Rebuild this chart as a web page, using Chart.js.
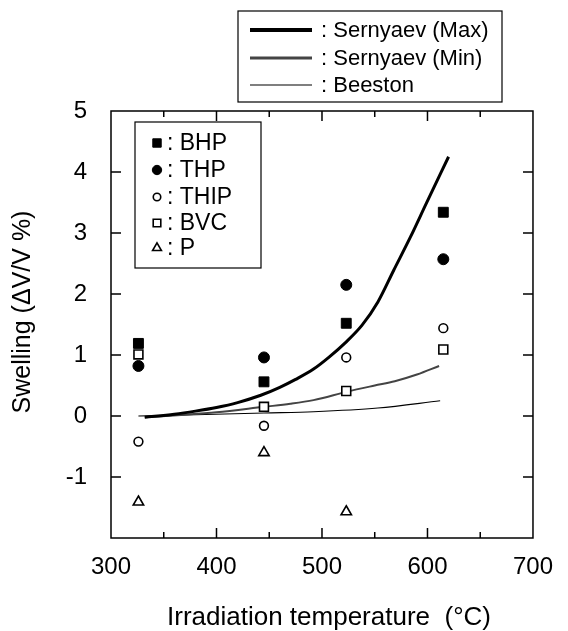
<!DOCTYPE html>
<html>
<head>
<meta charset="utf-8">
<script src="https://cdn.jsdelivr.net/npm/chart.js@4"></script>
<style>
  html, body { margin: 0; padding: 0; background: #fff; }
  #wrap { width: 568px; height: 631px; }
</style>
</head>
<body>
<div id="wrap"><canvas id="grafico" width="568" height="631"></canvas></div>
<script>
// datos
const tempGrupos = [326, 445, 523, 615];
const bhp = [1.19, 0.56, 1.52, 3.34];
const thp = [0.82, 0.96, 2.15, 2.57];
const thip = [-0.42, -0.16, 0.96, 1.44];
const bvc = [1.01, 0.15, 0.41, 1.09];
const tempP = [326, 445, 523];
const pVal = [-1.41, -0.60, -1.57];

// curvas
const maxT = [332, 360, 380, 400, 420, 442, 460, 475, 492, 507, 522, 538, 553, 568, 584, 599, 620];
const maxV = [-0.02, 0.03, 0.08, 0.14, 0.22, 0.34, 0.47, 0.60, 0.77, 0.97, 1.20, 1.49, 1.87, 2.39, 2.94, 3.49, 4.25];
const minT = [332, 370, 400, 445, 470, 492, 524, 550, 569, 590, 611];
const minV = [-0.02, 0.02, 0.06, 0.15, 0.20, 0.26, 0.40, 0.50, 0.57, 0.68, 0.82];
const beeT = [326, 380, 445, 492, 553, 612];
const beeV = [0.00, 0.02, 0.05, 0.07, 0.13, 0.25];

const xTicks = [300, 400, 500, 600, 700];
const yTicks = [-1, 0, 1, 2, 3, 4, 5];
const xTitulo = 'Irradiation temperature  (°C)';
const yTitulo = 'Swelling (ΔV/V %)';

const FONT = '"Liberation Sans", Arial, Helvetica, sans-serif';

function pares(xs, ys) {
    return xs.map((x, i) => ({ x: x, y: ys[i] }));
}

function puntos(label, ys, xs, style, relleno, radio) {
    return {
        label: label,
        data: pares(xs, ys),
        pointStyle: style,
        pointRadius: radio,
        pointHoverRadius: radio,
        pointBackgroundColor: relleno ? '#000' : '#fff',
        pointBorderColor: '#000',
        pointBorderWidth: relleno ? 1 : 1.6,
        showLine: false,
        order: 0,
        grupo: 'puntos'
    };
}

function curva(label, xs, ys, color, ancho, anchoLeyenda) {
    return {
        label: label,
        data: pares(xs, ys),
        showLine: true,
        borderColor: color,
        borderWidth: ancho,
        pointRadius: 0,
        cubicInterpolationMode: 'monotone',
        order: 5,
        grupo: 'curvas',
        anchoLeyenda: anchoLeyenda
    };
}

// marco, ticks hacia adentro, titulos y leyendas
const marcoPlugin = {
    id: 'marco',
    afterDraw(chart) {
        const ctx = chart.ctx;
        const a = chart.chartArea;
        const xs = chart.scales.x;
        const ys = chart.scales.y;
        ctx.save();
        ctx.strokeStyle = '#000';
        ctx.lineWidth = 1.5;
        ctx.strokeRect(a.left, a.top, a.right - a.left, a.bottom - a.top);

        ctx.beginPath();
        for (let v = 350; v < 700; v += 50) {
            const px = xs.getPixelForValue(v);
            const len = (v % 100 === 0) ? 10 : 6;
            ctx.moveTo(px, a.bottom); ctx.lineTo(px, a.bottom - len);
            ctx.moveTo(px, a.top); ctx.lineTo(px, a.top + len);
        }
        for (let v = -1; v < 5; v++) {
            const py = ys.getPixelForValue(v);
            ctx.moveTo(a.left, py); ctx.lineTo(a.left + 10, py);
            ctx.moveTo(a.right, py); ctx.lineTo(a.right - 10, py);
        }
        ctx.stroke();

        // titulos de ejes
        ctx.fillStyle = '#000';
        ctx.textAlign = 'center';
        ctx.textBaseline = 'middle';
        ctx.font = '26px ' + FONT;
        ctx.fillText(xTitulo, 329, 618);
        ctx.save();
        ctx.translate(23, 312);
        ctx.rotate(-Math.PI / 2);
        ctx.font = '25px ' + FONT;
        ctx.fillText(yTitulo, 0, 0);
        ctx.restore();
        ctx.textAlign = 'left';

        // leyenda de curvas (arriba)
        ctx.lineWidth = 1.2;
        ctx.strokeStyle = '#000';
        ctx.strokeRect(238, 11, 264, 91);
        const curvas = chart.data.datasets.filter(d => d.grupo === 'curvas');
        const filas = [30, 58, 85];
        ctx.font = '22px ' + FONT;
        curvas.forEach((d, i) => {
            ctx.beginPath();
            ctx.strokeStyle = d.borderColor;
            ctx.lineWidth = d.anchoLeyenda;
            ctx.moveTo(250, filas[i]);
            ctx.lineTo(312, filas[i]);
            ctx.stroke();
            ctx.fillText(': ' + d.label, 321, filas[i] + 1);
        });

        // leyenda de puntos (adentro)
        ctx.strokeStyle = '#000';
        ctx.lineWidth = 1.2;
        ctx.strokeRect(135, 122, 126, 146);
        const pts = chart.data.datasets.filter(d => d.grupo === 'puntos');
        const filas2 = [143, 170, 197, 223, 248];
        ctx.font = '23px ' + FONT;
        pts.forEach((d, i) => {
            ctx.fillStyle = d.pointBackgroundColor;
            ctx.strokeStyle = '#000';
            ctx.lineWidth = d.pointBorderWidth;
            Chart.helpers.drawPoint(ctx, {
                pointStyle: d.pointStyle,
                radius: d.pointRadius * 0.85,
                rotation: 0,
                borderWidth: d.pointBorderWidth
            }, 157, filas2[i]);
            ctx.fillStyle = '#000';
            ctx.fillText(': ' + d.label, 167, filas2[i] + 1);
        });
        ctx.restore();
    }
};

const context = document.getElementById('grafico').getContext('2d');

new Chart(context, {
    type: 'scatter',
    data: {
        datasets: [
            puntos('BHP', bhp, tempGrupos, 'rect', true, 7),
            puntos('THP', thp, tempGrupos, 'circle', true, 5.5),
            puntos('THIP', thip, tempGrupos, 'circle', false, 4.4),
            puntos('BVC', bvc, tempGrupos, 'rect', false, 6.3),
            puntos('P', pVal, tempP, 'triangle', false, 6),
            curva('Sernyaev (Max)', maxT, maxV, '#000', 3, 4),
            curva('Sernyaev (Min)', minT, minV, '#444', 2, 3.2),
            curva('Beeston', beeT, beeV, '#000', 1.1, 1.2)
        ]
    },
    options: {
        responsive: false,
        animation: false,
        layout: { padding: { top: 111, right: 23, left: 0, bottom: 0 } },
        plugins: {
            legend: { display: false },
            tooltip: { enabled: false }
        },
        scales: {
            x: {
                type: 'linear',
                min: 300,
                max: 700,
                afterFit: s => { s.height = 93; },
                afterBuildTicks: s => { s.ticks = xTicks.map(v => ({ value: v })); },
                grid: { display: false, drawTicks: false },
                border: { display: false },
                ticks: {
                    color: '#000',
                    padding: 15,
                    maxRotation: 0,
                    font: { family: FONT, size: 24 }
                }
            },
            y: {
                type: 'linear',
                min: -2,
                max: 5,
                afterFit: s => { s.width = 111; },
                afterBuildTicks: s => { s.ticks = yTicks.map(v => ({ value: v })); },
                grid: { display: false, drawTicks: false },
                border: { display: false },
                ticks: {
                    color: '#000',
                    padding: 24,
                    font: { family: FONT, size: 24 }
                }
            }
        }
    },
    plugins: [marcoPlugin]
});
</script>
</body>
</html>
